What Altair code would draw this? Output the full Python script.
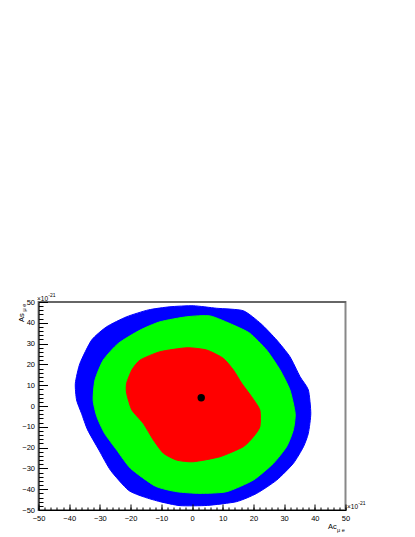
import altair as alt
import pandas as pd

# ---------------- data ----------------
x_ticks = [-50, -40, -30, -20, -10, 0, 10, 20, 30, 40, 50]
y_ticks = [-50, -40, -30, -20, -10, 0, 10, 20, 30, 40, 50]
minor_ticks = list(range(-50, 51, 2))

blue_x = [-14.2, -7.2, 0.4, 8.0, 16.7, 22.5, 27.6, 31.9, 35.2, 37.9, 38.7, 37.9, 36.3,
          33.0, 27.6, 21.1, 14.5, 5.0, -3.9, -10.4, -15.5, -20.7, -26.5, -30.3, -34.0,
          -36.0, -37.6, -38.0, -36.5, -32.7, -27.8, -21.3]
blue_y = [46.2, 47.7, 48.2, 47.0, 45.8, 39.5, 31.7, 23.7, 14.1, 7.7, -3.5, -13.1, -19.6,
          -27.6, -35.6, -42.0, -46.0, -47.8, -47.9, -46.0, -43.8, -40.5, -31.0, -21.2, -11.5,
          -3.5, 2.9, 10.9, 20.5, 31.7, 38.1, 42.9]

green_x = [-1.7, 5.9, 13.5, 18.9, 24.3, 28.7, 31.9, 33.6, 33.0, 30.8, 26.5, 20.0, 11.3,
           2.6, -5.0, -12.0, -20.0, -24.5, -28.5, -31.0, -32.2, -31.6, -28.9, -24.0,
           -16.9, -10.4]
green_y = [42.9, 43.3, 38.9, 34.9, 26.9, 17.3, 7.7, -3.5, -11.5, -19.6, -27.6, -35.6, -41.2,
           -42.0, -41.2, -38.5, -30.0, -21.2, -13.1, -5.1, 2.9, 12.5, 22.1, 30.1,
           36.5, 40.5]

red_x = [-16.9, -10.4, -1.7, 4.8, 10.2, 13.5, 16.2, 19.4, 22.1, 22.1, 20.0, 16.7, 9.1,
         0.4, -5.0, -9.3, -12.6, -15.9, -19.6, -21.3, -21.3, -19.6]
red_y = [22.1, 26.1, 28.0, 26.9, 22.9, 17.3, 10.9, 4.5, -1.9, -10.0, -14.8, -19.6, -24.4,
         -26.8, -26.0, -22.7, -16.3, -8.3, -1.9, 6.1, 10.9, 17.3]

best_x = [3.0]
best_y = [4.0]

exponent_main = "×10"
exponent_sup = "-21"
x_title_main = "Ac"
y_title_main = "As"
title_sub = "μ e"

# ---------------- layout ----------------
W, H = 307, 208
FONT = "Liberation Sans"
LAB = 7.5

xs = alt.Scale(domain=[-50, 50], nice=False, zero=False)
ys = alt.Scale(domain=[-50, 50], nice=False, zero=False)

x_lab = alt.Axis(orient="bottom", values=x_ticks, ticks=False, tickSize=0, labelPadding=4,
                 labelFlush=False, labelOverlap=False, grid=False, title=None,
                 domainColor="black", domainWidth=1, labelFont=FONT, labelFontSize=LAB,
                 labelColor="black", format="d", zindex=1)
y_lab = alt.Axis(orient="left", values=y_ticks, ticks=False, tickSize=0, labelPadding=4,
                 labelFlush=False, labelOverlap=False, grid=False, title=None,
                 domainColor="black", domainWidth=1, labelFont=FONT, labelFontSize=LAB,
                 labelColor="black", format="d", zindex=1)
x_major = alt.Axis(orient="top", offset=-H, values=x_ticks, labels=False, domain=False,
                   tickSize=6, tickColor="black", tickWidth=1, grid=False, title=None, zindex=1)
y_major = alt.Axis(orient="right", offset=-W, values=y_ticks, labels=False, domain=False,
                   tickSize=9, tickColor="black", tickWidth=1, grid=False, title=None, zindex=1)
x_minor = alt.Axis(orient="top", offset=-H, values=minor_ticks, labels=False, domain=False,
                   tickSize=3, tickColor="black", tickWidth=1, grid=False, title=None, zindex=1)
y_minor = alt.Axis(orient="right", offset=-W, values=minor_ticks, labels=False, domain=False,
                   tickSize=4.5, tickColor="black", tickWidth=1, grid=False, title=None, zindex=1)


def poly(px, py, color, xaxis, yaxis):
    df = pd.DataFrame({"x": px, "y": py, "i": list(range(len(px)))})
    return alt.Chart(df).mark_line(
        interpolate="cardinal-closed", tension=0.4, filled=True, fill=color, stroke=color,
        strokeWidth=1
    ).encode(
        x=alt.X("x:Q", scale=xs, axis=xaxis),
        y=alt.Y("y:Q", scale=ys, axis=yaxis),
        order=alt.Order("i:Q"),
    )


blue = poly(blue_x, blue_y, "#0000ff", x_lab, y_lab)
green = poly(green_x, green_y, "#00ff00", x_major, y_major)
red = poly(red_x, red_y, "#ff0000", x_minor, y_minor)

best = alt.Chart(pd.DataFrame({"x": best_x, "y": best_y})).mark_circle(
    size=55, color="black", opacity=1
).encode(x=alt.X("x:Q", scale=xs, axis=None), y=alt.Y("y:Q", scale=ys, axis=None))

top_line = alt.Chart(pd.DataFrame({"x": [x_ticks[0]], "x2": [x_ticks[-1]], "y": [y_ticks[-1]]})).mark_rule(
    color="black", strokeWidth=1, strokeDash=[1, 1]
).encode(x=alt.X("x:Q", scale=xs, axis=None), x2="x2:Q", y=alt.Y("y:Q", scale=ys, axis=None))


def txt(t, x, y, size, angle=0, align="left"):
    return alt.Chart(pd.DataFrame({"t": [t]})).mark_text(
        font=FONT, fontSize=size, color="black", align=align, baseline="alphabetic", angle=angle
    ).encode(text="t:N", x=alt.value(x), y=alt.value(y))


annos = [
    txt(exponent_main, -1.5, -1.5, 6.5),
    txt(exponent_sup, 9.8, -5, 5),
    txt(exponent_main, 308.5, 207, 6.5),
    txt(exponent_sup, 319.8, 203, 5),
    txt(x_title_main, 289.5, 227, LAB),
    txt(title_sub, 298.5, 229.5, 5.5),
    txt(y_title_main, -15, 20, LAB, angle=270),
    txt(title_sub, -13, 9.5, 5.5, angle=270),
]

chart = alt.layer(blue, green, red, best, top_line, *annos).resolve_axis(
    x="independent", y="independent"
).properties(
    width=W, height=H,
    autosize=alt.AutoSizeParams(type="none"),
    padding={"left": 30.5, "top": 294, "right": 60, "bottom": 27},
).configure_view(stroke="#888888", strokeWidth=2)

chart.save("out.html", embed_options={"renderer": "svg", "actions": False})
